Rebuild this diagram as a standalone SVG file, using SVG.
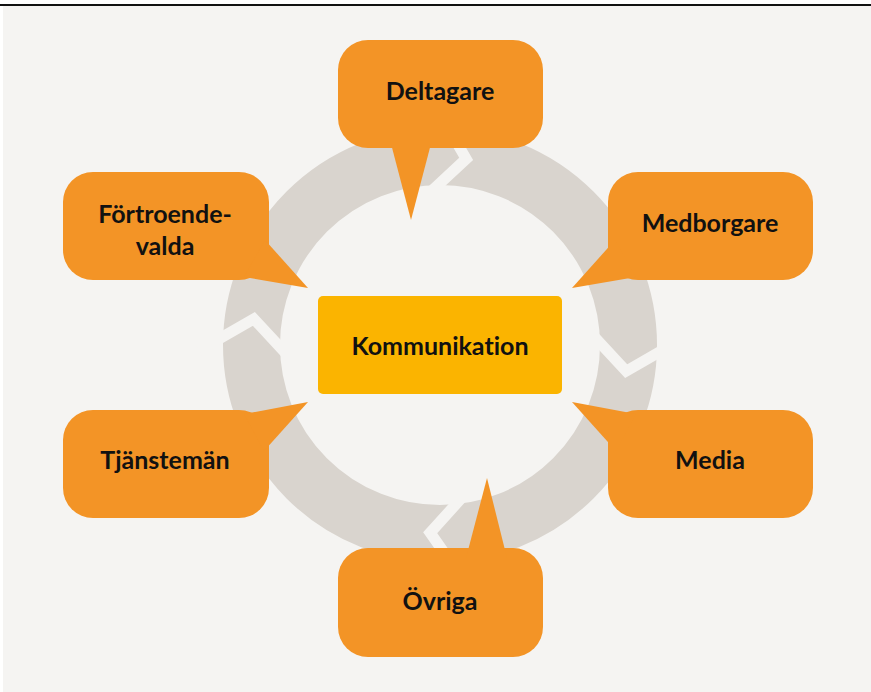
<svg xmlns="http://www.w3.org/2000/svg" width="871" height="692" viewBox="0 0 871 692">
  <style>
    .bubble { fill: #f39426; }
    .label { font-family: Lato, "Open Sans", "Liberation Sans", sans-serif; font-weight: 700; font-size: 25px; fill: #111; text-anchor: middle; font-variant-ligatures: none; }
    .chev { fill: none; stroke: #f5f4f2; stroke-width: 11; stroke-linejoin: miter; stroke-miterlimit: 10; }
  </style>
  <defs>
    <!-- gap cut into the ring, drawn at 12 o'clock and rotated into place -->
    <polyline id="chevron" class="chev" points="401,107 440,157 401,205"/>
  </defs>

  <!-- page background and top rule -->
  <rect x="3" y="6" width="868" height="686" fill="#f5f4f2"/>
  <line x1="0" y1="5" x2="871" y2="5" stroke="#111" stroke-width="2"/>

  <!-- circular flow ring with clockwise chevrons -->
  <g id="connectors">
    <circle cx="440" cy="345" r="188.5" fill="none" stroke="#d9d4ce" stroke-width="57"/>
    <use href="#chevron" transform="rotate(8 440 345)"/>
    <use href="#chevron" transform="rotate(98 440 345)"/>
    <use href="#chevron" transform="rotate(183 440 345)"/>
    <use href="#chevron" transform="rotate(278 440 345)"/>
  </g>

  <g id="kommunikation">
    <rect x="318" y="296" width="244" height="98" rx="5" fill="#fbb400"/>
    <text class="label" x="440" y="355">Kommunikation</text>
  </g>

  <g id="deltagare">
    <rect class="bubble" x="338" y="40" width="205" height="108" rx="30"/>
    <polygon class="bubble" points="390,140 432,140 411,220"/>
    <text class="label" x="440" y="100">Deltagare</text>
  </g>

  <g id="medborgare">
    <rect class="bubble" x="608" y="172" width="205" height="108" rx="30"/>
    <polygon class="bubble" points="572,288 615,240 636,277"/>
    <text class="label" x="710" y="232">Medborgare</text>
  </g>

  <g id="fortroendevalda">
    <rect class="bubble" x="63" y="172" width="206" height="108" rx="30"/>
    <polygon class="bubble" points="308,288 265,240 244,277"/>
    <text class="label" x="165" y="223">Förtroende-</text>
    <text class="label" x="165" y="255">valda</text>
  </g>

  <g id="tjansteman">
    <rect class="bubble" x="63" y="410" width="206" height="108" rx="30"/>
    <polygon class="bubble" points="308,402 244,414 264,451"/>
    <text class="label" x="165" y="469">Tjänstemän</text>
  </g>

  <g id="media">
    <rect class="bubble" x="608" y="410" width="205" height="108" rx="30"/>
    <polygon class="bubble" points="572,402 636,414 616,451"/>
    <text class="label" x="710" y="469">Media</text>
  </g>

  <g id="ovriga">
    <rect class="bubble" x="338" y="548" width="205" height="109" rx="30"/>
    <polygon class="bubble" points="466,558 507,558 487,478"/>
    <text class="label" x="440" y="610">Övriga</text>
  </g>
</svg>
